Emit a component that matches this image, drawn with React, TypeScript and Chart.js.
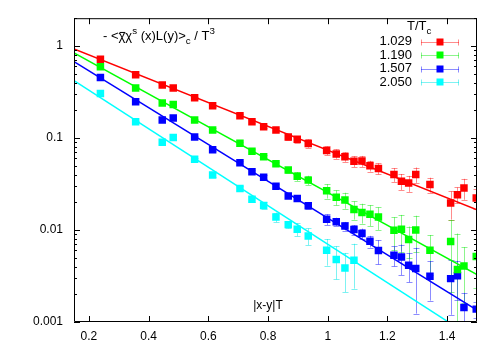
import React, { useEffect, useRef } from "react";
import { Chart, registerables } from "chart.js";
Chart.register(...registerables);

// |x-y|T positions (shared by all temperatures)
const xVals = [0.2385, 0.3565, 0.4456, 0.4824, 0.5541, 0.6144, 0.7059, 0.7461, 0.7853, 0.8265,
  0.8677, 0.8978, 0.9347, 0.9963, 1.0285, 1.0576, 1.0878, 1.1146, 1.1414, 1.1698,
  1.2218, 1.2469, 1.271, 1.2948, 1.3424, 1.4117, 1.4345, 1.4563, 1.4975];

const temps = ["1.029", "1.190", "1.507", "2.050"];
const colors = ["#ff0000", "#00ff00", "#0000ff", "#00ffff"];
const errColors = ["rgba(255,0,0,0.45)", "rgba(0,230,0,0.45)", "rgba(0,0,255,0.45)", "rgba(0,230,230,0.5)"];

const vals1029 = [0.718, 0.485, 0.375, 0.348, 0.2733, 0.224, 0.1745, 0.15, 0.1327, 0.1216,
  0.1026, 0.0966, 0.0872, 0.0729, 0.0671, 0.0623, 0.0557, 0.0561, 0.0498, 0.0465,
  0.0401, 0.0339, 0.0323, 0.0401, 0.0312, 0.0196, 0.0242, 0.0286, 0.0222];
const relErr1029 = [0.02, 0.02, 0.025, 0.025, 0.03, 0.03, 0.035, 0.04, 0.04, 0.045,
  0.0745, 0.083, 0.103, 0.108, 0.116, 0.116, 0.133, 0.136, 0.133, 0.136,
  0.169, 0.197, 0.197, 0.19, 0.185, 0.339, 0.197, 0.256, 0.244];

const vals1190 = [0.592, 0.348, 0.2395, 0.2313, 0.1567, 0.1222, 0.0875, 0.0716, 0.0623, 0.0523,
  0.0448, 0.0383, 0.0348, 0.0267, 0.0227, 0.0212, 0.0167, 0.0155, 0.0148, 0.0138,
  0.0099, 0.0102, 0.0079, 0.01, 0.00603, 0.00748, 0.00372, 0.00407, 0.00514];
const relErr1190 = [0.02, 0.025, 0.03, 0.03, 0.035, 0.04, 0.045, 0.05, 0.055, 0.06,
  0.07, 0.112, 0.116, 0.178, 0.185, 0.197, 0.224, 0.244, 0.256, 0.275,
  0.39, 0.428, 0.379, 0.428, 0.461, 0.72, 1.46, 0.6, 0.55];

const vals1507 = [0.4536, 0.2474, 0.1567, 0.1648, 0.1026, 0.0742, 0.0536, 0.0429, 0.0375, 0.0299,
  0.0234, 0.022, 0.01836, 0.01304, 0.01232, 0.01104, 0.01009, 0.00916, 0.00754, 0.00599,
  0.00532, 0.00509, 0.00414, 0.00382, 0.00315, 0.00296, 0.00319, 0.00144, 0.00138];
const relErr1507 = [0.02, 0.025, 0.03, 0.03, 0.035, 0.04, 0.045, 0.05, 0.05, 0.055,
  0.06, 0.07, 0.08, 0.133, 0.103, 0.107, 0.116, 0.13, 0.145, 0.294,
  0.244, 0.365, 0.346, 0.677, 0.458, 0.595, 0.45, 0.44, 0.2];

const vals2050 = [0.3042, 0.1503, 0.0897, 0.1008, 0.0585, 0.0396, 0.0283, 0.0216, 0.0185, 0.0138,
  0.01143, 0.01017, 0.00861, 0.00603, 0.00478, 0.00387, 0.00469];
const relErr2050 = [0.02, 0.025, 0.03, 0.035, 0.04, 0.05, 0.06, 0.07, 0.08, 0.12,
  0.091, 0.157, 0.205, 0.321, 0.393, 0.454, 0.509];

// fitted exponential lines (end points)
const fitX = [0.15, 1.5];
const fit1029 = [0.928, 0.01654];
const fit1190 = [0.84, 0.003268];
const fit1507 = [0.676, 0.001349];
const fit2050 = [0.42, 0.00063];

const xTicks = [0.2, 0.4, 0.6, 0.8, 1.0, 1.2, 1.4];
const xTickLabels = ["0.2", "0.4", "0.6", "0.8", "1", "1.2", "1.4"];
const yTicks = [0.001, 0.01, 0.1, 1];
const yTickLabels = ["0.001", "0.01", "0.1", "1"];

const seriesVals = [vals1029, vals1190, vals1507, vals2050];
const seriesErr = [relErr1029, relErr1190, relErr1507, relErr2050];
const seriesFit = [fit1029, fit1190, fit1507, fit2050];

const FONT = "Liberation Sans, Arial, Helvetica, sans-serif";

type Part = { t: string; mode?: "sup" | "sub"; bar?: boolean };
function drawRich(ctx: CanvasRenderingContext2D, parts: Part[], x: number, y: number, size: number) {
  let cx = x;
  ctx.textAlign = "left";
  ctx.textBaseline = "alphabetic";
  for (const p of parts) {
    const s = p.mode ? size * 0.75 : size;
    const dy = p.mode === "sup" ? -size * 0.45 : p.mode === "sub" ? size * 0.3 : 0;
    ctx.font = `${s}px ${FONT}`;
    ctx.fillText(p.t, cx, y + dy);
    const w = ctx.measureText(p.t).width;
    if (p.bar) {
      ctx.fillRect(cx + 1, y + dy - size * 0.62, w - 1, 1);
    }
    cx += w;
  }
}

const decorPlugin = {
  id: "decor",
  beforeDatasetsDraw(chart: any) {
    const { ctx, chartArea, scales } = chart;
    const xs = scales.x, ys = scales.y;
    ctx.save();
    ctx.beginPath();
    ctx.rect(chartArea.left, chartArea.top, chartArea.right - chartArea.left, chartArea.bottom - chartArea.top);
    ctx.clip();
    ctx.lineWidth = 1;
    seriesVals.forEach((vals, si) => {
      ctx.strokeStyle = errColors[si];
      vals.forEach((v, i) => {
        const e = v * seriesErr[si][i];
        const px = Math.round(xs.getPixelForValue(xVals[i])) + 0.5;
        const top = ys.getPixelForValue(v + e);
        const lo = v - e;
        const bot = lo > 0 ? ys.getPixelForValue(lo) : chartArea.bottom + 10;
        ctx.beginPath();
        ctx.moveTo(px, top);
        ctx.lineTo(px, bot);
        ctx.moveTo(px - 3, Math.round(top) + 0.5);
        ctx.lineTo(px + 3, Math.round(top) + 0.5);
        if (lo > 0) {
          ctx.moveTo(px - 3, Math.round(bot) + 0.5);
          ctx.lineTo(px + 3, Math.round(bot) + 0.5);
        }
        ctx.stroke();
      });
    });
    ctx.restore();
  },
  afterDraw(chart: any) {
    const { ctx, chartArea, scales } = chart;
    const xs = scales.x, ys = scales.y;
    const L = chartArea.left, R = chartArea.right, T = chartArea.top, B = chartArea.bottom;
    ctx.save();
    ctx.strokeStyle = "#000";
    ctx.lineWidth = 1;
    ctx.beginPath();
    ctx.rect(L + 0.5, T + 0.5, R - L - 1, B - T - 1);
    ctx.stroke();
    ctx.beginPath();
    for (const v of xTicks) {
      const px = Math.round(xs.getPixelForValue(v)) + 0.5;
      ctx.moveTo(px, B); ctx.lineTo(px, B - 6);
      ctx.moveTo(px, T); ctx.lineTo(px, T + 6);
    }
    for (let d = -3; d <= 0; d++) {
      for (let m = 1; m <= 9; m++) {
        const v = m * Math.pow(10, d);
        if (v < ys.min || v > ys.max) continue;
        const py = Math.round(ys.getPixelForValue(v)) + 0.5;
        const len = m === 1 ? 6 : 3;
        ctx.moveTo(L, py); ctx.lineTo(L + len, py);
        ctx.moveTo(R, py); ctx.lineTo(R - len, py);
      }
    }
    ctx.stroke();

    ctx.fillStyle = "#000";
    // title inside the plot
    drawRich(ctx, [
      { t: "- <" }, { t: "χ", bar: true }, { t: "χ" }, { t: "s", mode: "sup" },
      { t: " (x)L(y)>" }, { t: "c", mode: "sub" }, { t: " / T" }, { t: "3", mode: "sup" },
    ], 103, 40, 13);
    // x label
    ctx.font = `12px ${FONT}`;
    ctx.textAlign = "center";
    ctx.textBaseline = "middle";
    ctx.fillText("|x-y|T", 268, 306);

    // legend
    drawRich(ctx, [{ t: "T/T" }, { t: "c", mode: "sub" }], 407, 30, 13);
    const ly = [41.5, 55, 68.5, 82];
    temps.forEach((t, i) => {
      ctx.font = `13px ${FONT}`;
      ctx.textAlign = "right";
      ctx.textBaseline = "middle";
      ctx.fillStyle = "#000";
      ctx.fillText(t, 412, ly[i]);
      const y = Math.round(ly[i]) + 0.5;
      ctx.strokeStyle = errColors[i];
      ctx.beginPath();
      ctx.moveTo(421, y); ctx.lineTo(459, y);
      ctx.moveTo(421.5, y - 3); ctx.lineTo(421.5, y + 3);
      ctx.moveTo(458.5, y - 3); ctx.lineTo(458.5, y + 3);
      ctx.stroke();
      ctx.fillStyle = colors[i];
      ctx.fillRect(436.5, y - 4, 7, 7);
    });
    ctx.restore();
  },
};

export default function App() {
  const ref = useRef<HTMLCanvasElement>(null);
  useEffect(() => {
    if (!ref.current) return;
    const datasets: any[] = [];
    seriesVals.forEach((vals, si) => {
      datasets.push({
        type: "scatter",
        label: temps[si],
        data: vals.map((v, i) => ({ x: xVals[i], y: v })),
        backgroundColor: colors[si],
        borderColor: colors[si],
        pointStyle: "rect",
        pointRadius: 5.3,
        borderWidth: 0,
        pointBorderWidth: 0,
        showLine: false,
        order: 1,
      });
      datasets.push({
        type: "line",
        label: "fit " + temps[si],
        data: fitX.map((x, i) => ({ x, y: seriesFit[si][i] })),
        borderColor: colors[si],
        borderWidth: 1.5,
        pointRadius: 0,
        fill: false,
        order: 2,
      });
    });
    const chart = new Chart(ref.current, {
      type: "scatter",
      data: { datasets },
      options: {
        animation: false,
        responsive: false,
        devicePixelRatio: 1,
        layout: { padding: { top: 17, right: 23, left: 0, bottom: 0 } },
        plugins: { legend: { display: false }, tooltip: { enabled: false } },
        scales: {
          x: {
            type: "linear",
            min: 0.15,
            max: 1.5,
            grid: { display: false, drawTicks: false },
            border: { display: false },
            afterBuildTicks: (s: any) => { s.ticks = xTicks.map((v) => ({ value: v })); },
            afterFit: (s: any) => { s.height = 28; },
            ticks: {
              autoSkip: false,
              maxRotation: 0,
              padding: 7,
              color: "#000",
              font: { family: FONT, size: 12 },
              callback: (_v: any, i: number) => xTickLabels[i],
            },
          },
          y: {
            type: "logarithmic",
            min: 0.001,
            max: 2,
            grid: { display: false, drawTicks: false },
            border: { display: false },
            afterBuildTicks: (s: any) => { s.ticks = yTicks.map((v) => ({ value: v })); },
            afterFit: (s: any) => { s.width = 74; },
            ticks: {
              autoSkip: false,
              padding: 11,
              color: "#000",
              font: { family: FONT, size: 12 },
              callback: (_v: any, i: number) => yTickLabels[i],
            },
          },
        },
      },
      plugins: [decorPlugin],
    } as any);
    return () => chart.destroy();
  }, []);
  return (
    <div style={{ position: "absolute", left: 0, top: 0, width: 500, height: 350, background: "#fff" }}>
      <canvas ref={ref} width={500} height={350} style={{ display: "block" }} />
    </div>
  );
}
